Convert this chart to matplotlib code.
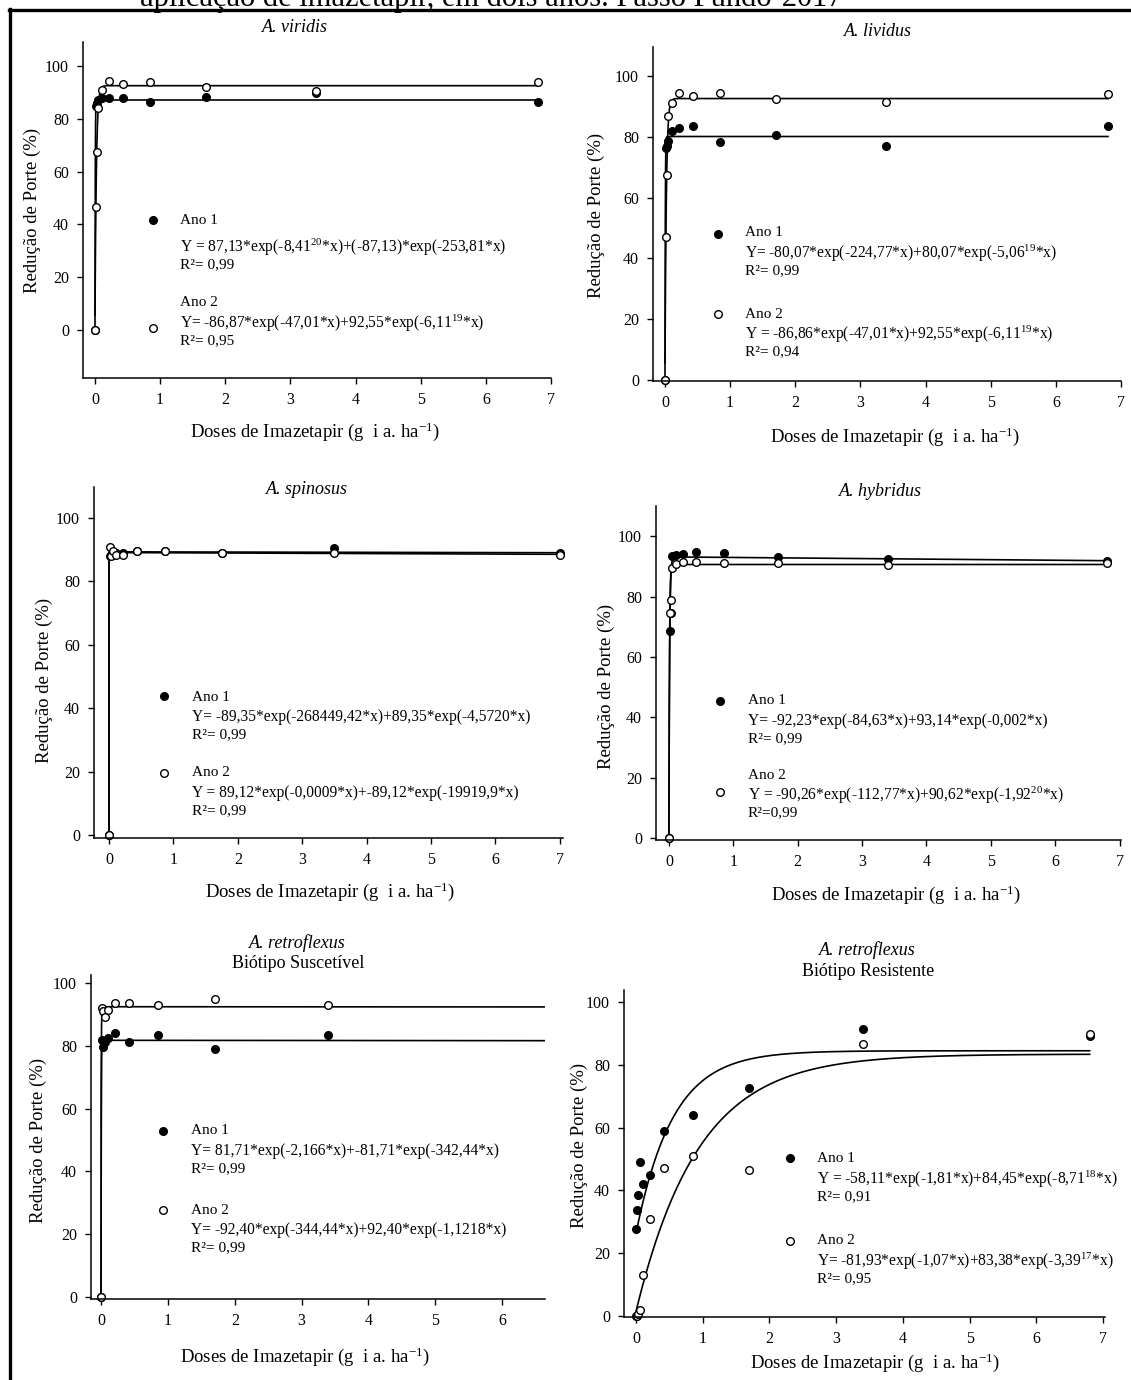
import numpy as np
import matplotlib.pyplot as plt
from matplotlib.lines import Line2D

plt.rcParams['font.family'] = ['Liberation Serif', 'DejaVu Serif']
plt.rcParams['mathtext.fontset'] = 'custom'
plt.rcParams['mathtext.rm'] = 'Liberation Serif'
plt.rcParams['mathtext.it'] = 'Liberation Serif:italic'

W, H = 1131, 1380

# doses of imazetapir (g i.a. ha-1)
doses = [0, 0.0133, 0.0266, 0.053, 0.106, 0.2125, 0.425, 0.85, 1.7, 3.4, 6.8]
doses_spin = [0, 0.0137, 0.0273, 0.055, 0.109, 0.219, 0.4375, 0.875, 1.75, 3.5, 7.0]
doses_susc = doses[:10]

# plant size reduction (%)
viridis_ano1 = [0, 85, 86, 87, 88, 88, 88, 86.4, 88.3, 89.8, 86.4]
viridis_ano2 = [0, 46.6, 67.4, 84, 91, 94.3, 93.2, 94, 92, 90.5, 94]
lividus_ano1 = [0, 76.3, 77, 78.5, 82, 83, 83.5, 78.3, 80.6, 77, 83.5]
lividus_ano2 = [0, 47, 67.4, 86.8, 91, 94.4, 93.4, 94.4, 92.4, 91.4, 94]
spinosus_ano1 = [0, 88, 88.5, 89, 89, 89, 89.5, 89.5, 89, 90.5, 89]
spinosus_ano2 = [0, 91, 88, 89.5, 88.5, 88.5, 89.5, 89.5, 89, 89, 88.5]
hybridus_ano1 = [0, 68.5, 74.5, 93.5, 93.7, 94, 94.7, 94.4, 93, 92.4, 91.7]
hybridus_ano2 = [0, 74.5, 79, 89.5, 90.7, 91.5, 91.4, 91, 91, 90.4, 91]
susc_ano1 = [0, 81.8, 79.6, 81.2, 82.5, 84, 81.2, 83.4, 79, 83.4]
susc_ano2 = [0, 92, 91, 89, 91.5, 93.6, 93.6, 93, 94.9, 93]
resist_ano1 = [27.7, 33.8, 38.5, 49, 42, 45, 59, 64, 72.5, 91.5, 89]
resist_ano2 = [0, 0, 0.5, 2, 13, 31, 47, 51, 46.5, 86.6, 89.8]

# fitted models: Y = a*exp(-k1*x) + b*exp(-k2*x)
# (some printed rates omit their power of ten; tiny values keep those fits flat)
viridis_fit1 = [87.13, 8.41e-20, -87.13, 253.81]
viridis_fit2 = [-86.87, 47.01, 92.55, 6.11e-19]
lividus_fit1 = [-80.07, 224.77, 80.07, 5.06e-19]
lividus_fit2 = [-86.86, 47.01, 92.55, 6.11e-19]
spinosus_fit1 = [-89.35, 268449.42, 89.35, 4.5720e-4]
spinosus_fit2 = [89.12, 0.0009, -89.12, 19919.9]
hybridus_fit1 = [-92.23, 84.63, 93.14, 0.002]
hybridus_fit2 = [-90.26, 112.77, 90.62, 1.92e-20]
susc_fit1 = [81.71, 2.166e-4, -81.71, 342.44]
susc_fit2 = [-92.40, 344.44, 92.40, 1.1218e-4]
resist_fit1 = [-58.11, 1.81, 84.45, 8.71e-18]
resist_fit2 = [-81.93, 1.07, 83.38, 3.39e-17]

viridis_eq = ['Y = 87,13*exp(-8,41$^{\\mathrm{20}}$*x)+(-87,13)*exp(-253,81*x)',
              'Y= -86,87*exp(-47,01*x)+92,55*exp(-6,11$^{\\mathrm{19}}$*x)']
lividus_eq = ['Y= -80,07*exp(-224,77*x)+80,07*exp(-5,06$^{\\mathrm{19}}$*x)',
              'Y = -86,86*exp(-47,01*x)+92,55*exp(-6,11$^{\\mathrm{19}}$*x)']
spinosus_eq = ['Y= -89,35*exp(-268449,42*x)+89,35*exp(-4,5720*x)',
               'Y = 89,12*exp(-0,0009*x)+-89,12*exp(-19919,9*x)']
hybridus_eq = ['Y= -92,23*exp(-84,63*x)+93,14*exp(-0,002*x)',
               'Y = -90,26*exp(-112,77*x)+90,62*exp(-1,92$^{\\mathrm{20}}$*x)']
susc_eq = ['Y= 81,71*exp(-2,166*x)+-81,71*exp(-342,44*x)',
           'Y= -92,40*exp(-344,44*x)+92,40*exp(-1,1218*x)']
resist_eq = ['Y = -58,11*exp(-1,81*x)+84,45*exp(-8,71$^{\\mathrm{18}}$*x)',
             'Y= -81,93*exp(-1,07*x)+83,38*exp(-3,39$^{\\mathrm{17}}$*x)']

viridis_r2 = ['R²= 0,99', 'R²= 0,95']
lividus_r2 = ['R²= 0,99', 'R²= 0,94']
spinosus_r2 = ['R²= 0,99', 'R²= 0,99']
hybridus_r2 = ['R²= 0,99', 'R²=0,99']
susc_r2 = ['R²= 0,99', 'R²= 0,99']
resist_r2 = ['R²= 0,91', 'R²= 0,95']

fig = plt.figure(figsize=(W / 100, H / 100), dpi=100)


def fx(px):
    return px / W


def fy(py):
    return 1 - py / H


def model(p, x):
    return p[0] * np.exp(-p[1] * x) + p[2] * np.exp(-p[3] * x)


def panel(box, xlim, ylim, xticks, x, y1, y2, fit1, fit2, xend,
          title, title_xy, ylab_xy, xlab_xy, leg, eqs, r2s, subtitle=None):
    l, t, r, b = box
    ax = fig.add_axes([fx(l), fy(b), (r - l) / W, (b - t) / H])
    ax.set_xlim(*xlim)
    ax.set_ylim(*ylim)
    ax.set_xticks(xticks)
    ax.set_yticks(range(0, 101, 20))
    for s in ['top', 'right']:
        ax.spines[s].set_visible(False)
    for s in ['left', 'bottom']:
        ax.spines[s].set_linewidth(1.1)
    ax.tick_params(direction='out', length=4, width=1, labelsize=11.5, pad=6)

    xs = np.concatenate([np.linspace(0, 0.1, 500), np.linspace(0.1, xend, 400)])
    ax.plot(xs, model(fit1, xs), color='black', lw=1.2)
    ax.plot(xs, model(fit2, xs), color='black', lw=1.2)
    ax.plot(x, y1, 'o', color='black', ms=5.5, clip_on=False)
    ax.plot(x, y2, 'o', mfc='white', mec='black', mew=1, ms=5.5, clip_on=False)

    fig.text(fx(title_xy[0]), fy(title_xy[1]), title, style='italic',
             fontsize=13, ha='center', va='center')
    if subtitle:
        fig.text(fx(title_xy[0] + 1), fy(title_xy[1] + 21), subtitle,
                 fontsize=13, ha='center', va='center')
    fig.text(fx(ylab_xy[0]), fy(ylab_xy[1]), 'Redução de Porte (%)',
             rotation=90, fontsize=13.5, ha='center', va='center')
    fig.text(fx(xlab_xy[0]), fy(xlab_xy[1]),
             'Doses de Imazetapir (g  i a. ha$^{\\mathrm{-1}}$)',
             fontsize=13.5, ha='center', va='center')

    # key: marker, year, equation and R²
    mx, tx, rows = leg
    for i, (ty, my) in enumerate(rows):
        filled = i == 0
        fig.add_artist(Line2D([fx(mx)], [fy(my)], marker='o', ms=5.5,
                              mfc='black' if filled else 'white', mec='black',
                              mew=1, transform=fig.transFigure))
        fig.text(fx(tx), fy(ty), 'Ano %d' % (i + 1), fontsize=11, va='center')
        gap = 27 if i == 0 and eqs is viridis_eq else 20
        fig.text(fx(tx), fy(ty + gap), eqs[i], fontsize=11.2, va='center')
        fig.text(fx(tx), fy(ty + gap + 18), r2s[i], fontsize=11, va='center')
    return ax


panel((83, 42, 551, 378), (-0.184, 7.0), (-18.2, 109.1), range(8),
      doses, viridis_ano1, viridis_ano2, viridis_fit1, viridis_fit2, 6.8,
      'A. viridis', (295, 28), (32, 210), (315, 432),
      (153, 180, [(220, 220), (303, 328)]), viridis_eq, viridis_r2)

panel((653, 47, 1121, 381), (-0.184, 7.0), (-0.33, 109.5), range(8),
      doses, lividus_ano1, lividus_ano2, lividus_fit1, lividus_fit2, 6.8,
      'A. lividus', (878, 32), (596, 215), (895, 437),
      (718, 745, [(233, 234), (314, 314)]), lividus_eq, lividus_r2)

panel((94, 487, 563, 838), (-0.233, 7.05), (-0.95, 109.8), range(8),
      doses_spin, spinosus_ano1, spinosus_ano2, spinosus_fit1, spinosus_fit2, 7.0,
      'A. spinosus', (307, 489), (44, 680), (330, 892),
      (164, 192, [(697, 696), (773, 773)]), spinosus_eq, spinosus_r2)

panel((656, 506, 1121, 840), (-0.2, 7.02), (-0.66, 110), range(8),
      doses, hybridus_ano1, hybridus_ano2, hybridus_fit1, hybridus_fit2, 6.8,
      'A. hybridus', (880, 491), (606, 686), (896, 895),
      (720, 748, [(701, 701), (775, 792)]), hybridus_eq, hybridus_r2)

panel((91, 975, 545, 1299), (-0.15, 6.64), (-0.64, 102.5), range(7),
      doses_susc, susc_ano1, susc_ano2, susc_fit1, susc_fit2, 6.64,
      'A. retroflexus', (297, 943), (38, 1140), (305, 1357),
      (163, 191, [(1131, 1131), (1210, 1210)]), susc_eq, susc_r2,
      subtitle='Biótipo Suscetível')

panel((624, 990, 1105, 1317), (-0.18, 7.03), (-0.32, 103.8), range(8),
      doses, resist_ano1, resist_ano2, resist_fit1, resist_fit2, 6.8,
      'A. retroflexus', (867, 950), (579, 1145), (875, 1363),
      (790, 817, [(1159, 1158), (1241, 1241)]), resist_eq, resist_r2,
      subtitle='Biótipo Resistente')

# caption running off the top edge and the table border
fig.text(fx(140), fy(6), 'aplicação de imazetapir, em dois anos. Passo Fundo-2017',
         fontsize=22, va='baseline', ha='left')
fig.add_artist(Line2D([fx(9), 1], [fy(10), fy(10)], color='black', lw=2.4,
                      transform=fig.transFigure))
fig.add_artist(Line2D([fx(10), fx(10)], [fy(9), 0], color='black', lw=2.4,
                      transform=fig.transFigure))

fig.savefig('out.png', dpi=100)
